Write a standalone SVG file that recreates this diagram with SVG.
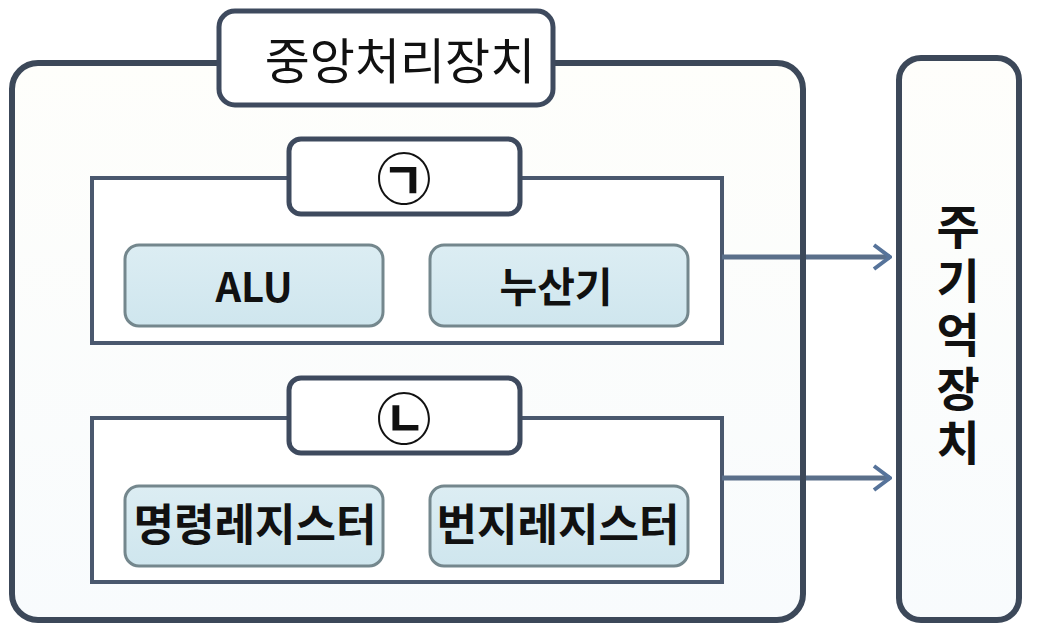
<svg xmlns="http://www.w3.org/2000/svg" width="1039" height="637" viewBox="0 0 1039 637">
<defs>
<linearGradient id="bg" x1="0" y1="0" x2="0" y2="1"><stop offset="0" stop-color="#fefefb"/><stop offset="1" stop-color="#f8fbfd"/></linearGradient>
<linearGradient id="reg" x1="0" y1="0" x2="0" y2="1"><stop offset="0" stop-color="#dcedf3"/><stop offset="1" stop-color="#cfe6ee"/></linearGradient>
<marker id="arr" viewBox="0 0 20 28" refX="18" refY="14" markerWidth="20" markerHeight="28" markerUnits="userSpaceOnUse" orient="auto">
<path d="M2,2 L18,14 L2,26" fill="none" stroke="#56739a" stroke-width="4"/>
</marker>
<style>
.outer{fill:url(#bg);stroke:#3c4859;stroke-width:6}
.lbl{fill:#ffffff;stroke:#3e4a5e;stroke-width:5}
.inner{fill:#ffffff;stroke:#4a586e;stroke-width:4}
.reg{fill:url(#reg);stroke:#74878d;stroke-width:3}
.t{font-family:"Noto Sans CJK KR","Noto Sans",sans-serif;fill:#111;text-anchor:middle}
.b{font-weight:bold}
.v{writing-mode:vertical-rl;text-orientation:upright}
.conn{stroke:#5a6f8a;stroke-width:5;fill:none}
</style>
</defs>
<rect width="1039" height="637" fill="#ffffff"/>
<g id="cpu">
<rect class="outer" x="12" y="63" width="791" height="557" rx="26"/>
</g>
<g id="cpu-title">
<rect class="lbl" x="219" y="11" width="334" height="94" rx="16"/>
<text class="t" x="400" y="79" font-size="49">중앙처리장치</text>
</g>
<g id="group-a">
<rect class="inner" x="92" y="178" width="630" height="165"/>
</g>
<g id="label-a">
<rect class="lbl" x="289" y="139" width="231" height="75" rx="12" stroke-width="4"/>
<text class="t b" x="404" y="199" font-size="55">㉠</text>
</g>
<g id="alu">
<rect class="reg" x="125" y="245" width="258" height="81" rx="14"/>
<text class="t b" x="254" y="302" font-size="40">ALU</text>
</g>
<g id="acc">
<rect class="reg" x="430" y="245" width="258" height="81" rx="14"/>
<text class="t b" x="556" y="302" font-size="41">누산기</text>
</g>
<g id="group-b">
<rect class="inner" x="92" y="418" width="630" height="164"/>
</g>
<g id="label-b">
<rect class="lbl" x="289" y="378" width="231" height="75" rx="12" stroke-width="4"/>
<text class="t b" x="404" y="439" font-size="55">㉡</text>
</g>
<g id="ir">
<rect class="reg" x="125" y="486" width="258" height="80" rx="14"/>
<text class="t b" x="255" y="541" font-size="44">명령레지스터</text>
</g>
<g id="mar">
<rect class="reg" x="430" y="486" width="258" height="80" rx="14"/>
<text class="t b" x="558" y="541" font-size="44">번지레지스터</text>
</g>
<g id="connectors">
<line class="conn" x1="722" y1="257" x2="890" y2="257" marker-end="url(#arr)"/>
<line class="conn" x1="722" y1="478" x2="890" y2="478" marker-end="url(#arr)"/>
</g>
<g id="cpu-border-over">
<path d="M803,200 L803,560" stroke="#3c4859" stroke-width="6" fill="none"/>
</g>
<g id="memory">
<rect class="outer" x="899" y="58" width="120" height="562" rx="22"/>
<text class="t b v" x="958" y="338" font-size="47" letter-spacing="7">주기억장치</text>
</g>
</svg>
